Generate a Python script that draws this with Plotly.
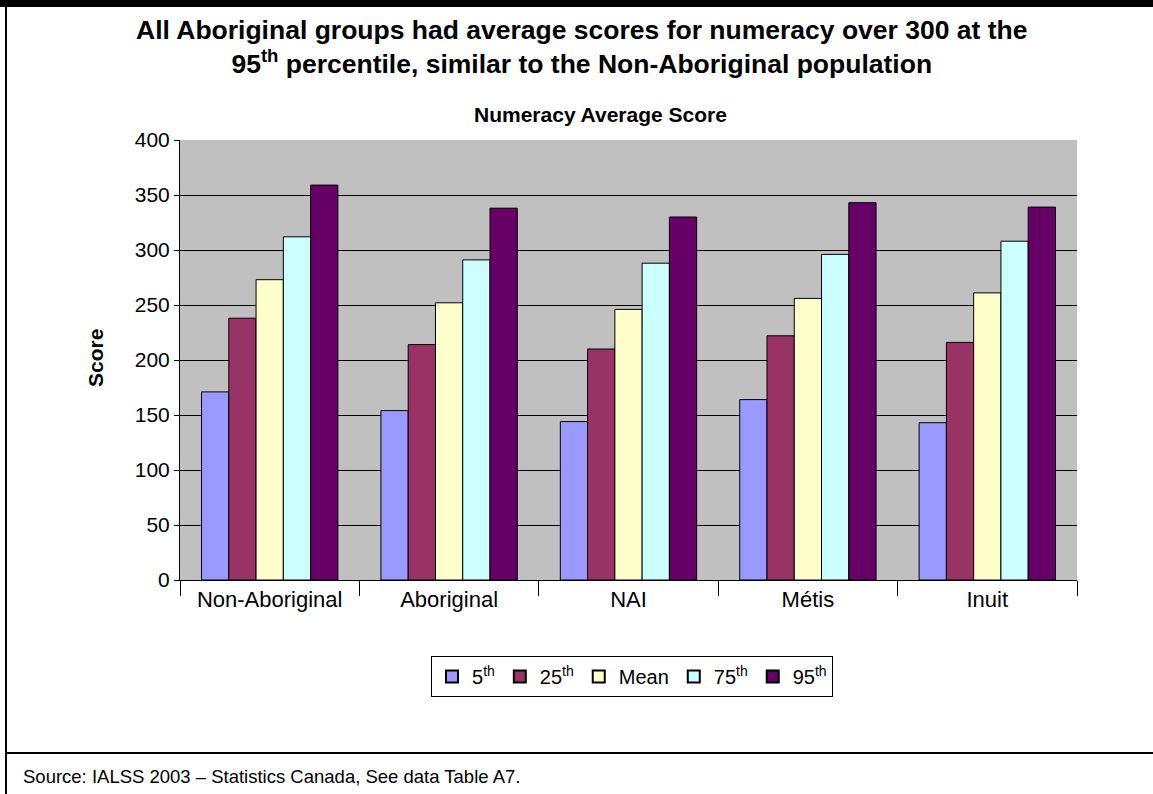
import plotly.graph_objects as go

categories = ["Non-Aboriginal", "Aboriginal", "NAI", "Métis", "Inuit"]
series_names = ["5<sup>th</sup>", "25<sup>th</sup>", "Mean", "75<sup>th</sup>", "95<sup>th</sup>"]
p5 = [171, 154, 144, 164, 143]
p25 = [238, 214, 210, 222, 216]
mean = [273, 252, 246, 256, 261]
p75 = [312, 291, 288, 296, 308]
p95 = [359, 338, 330, 343, 339]
colors = ["#9999FF", "#993366", "#FFFFCC", "#CCFFFF", "#660066"]
y_ticks = [0, 50, 100, 150, 200, 250, 300, 350, 400]

FONT = "Liberation Sans, Arial, sans-serif"

W, H = 1153, 794
L, R, T, B = 180, 76, 140, 214
PW, PH = W - L - R, H - T - B


def px_x(p):
    return (p - L) / PW


def px_y(p):
    return (H - B - p) / PH


fig = go.Figure()
for name, vals, col in zip(series_names, [p5, p25, mean, p75, p95], colors):
    fig.add_trace(go.Bar(
        x=categories, y=vals, name=name,
        marker=dict(color=col, line=dict(color="black", width=1)),
    ))

fig.update_layout(
    width=W, height=H,
    margin=dict(l=L, r=R, t=T, b=B, autoexpand=False),
    paper_bgcolor="white",
    plot_bgcolor="#C0C0C0",
    barmode="group",
    bargap=0.24,
    bargroupgap=0,
    font=dict(family=FONT, color="black", size=18),
    showlegend=True,
    legend=dict(
        orientation="h",
        x=px_x(632), xanchor="center",
        y=px_y(656), yanchor="top",
        bgcolor="white", bordercolor="black", borderwidth=1,
        font=dict(size=20, family=FONT),
        itemsizing="constant",
        itemwidth=30,
    ),
)

fig.update_xaxes(
    showline=True, linecolor="black", linewidth=1,
    ticks="outside", tickson="boundaries", ticklen=15, tickcolor="black",
    tickfont=dict(size=22, family=FONT),
    showgrid=False,
)
fig.update_yaxes(
    range=[0, 400], tickvals=y_ticks,
    showline=True, linecolor="black", linewidth=1,
    ticks="outside", ticklen=5, tickcolor="black",
    tickfont=dict(size=21, family=FONT),
    showgrid=True, gridcolor="black", gridwidth=1,
    zeroline=False,
)

# Titles
fig.add_annotation(
    xref="paper", yref="paper", x=px_x(581), y=px_y(47),
    xanchor="center", yanchor="middle", showarrow=False,
    text="<b>All Aboriginal groups had average scores for numeracy over 300 at the<br>"
         "95<sup>th</sup> percentile, similar to the Non-Aboriginal population</b>",
    font=dict(size=26.5, family=FONT), align="center",
)
fig.add_annotation(
    xref="paper", yref="paper", x=px_x(600), y=px_y(115),
    xanchor="center", yanchor="middle", showarrow=False,
    text="<b>Numeracy Average Score</b>",
    font=dict(size=21, family=FONT),
)
fig.add_annotation(
    xref="paper", yref="paper", x=px_x(95), y=px_y(358),
    xanchor="center", yanchor="middle", showarrow=False, textangle=-90,
    text="<b>Score</b>", font=dict(size=21, family=FONT),
)
fig.add_annotation(
    xref="paper", yref="paper", x=px_x(21), y=px_y(776),
    xanchor="left", yanchor="middle", showarrow=False,
    text="Source: IALSS 2003 – Statistics Canada, See data Table A7.",
    font=dict(size=18.5, family=FONT),
)

# Frame
fig.add_shape(type="rect", xref="paper", yref="paper",
              x0=px_x(0), x1=px_x(W), y0=px_y(7), y1=px_y(0),
              fillcolor="black", line=dict(width=0), layer="above")
fig.add_shape(type="line", xref="paper", yref="paper",
              x0=px_x(6), x1=px_x(6), y0=px_y(0), y1=px_y(H),
              line=dict(color="black", width=2), layer="above")
fig.add_shape(type="line", xref="paper", yref="paper",
              x0=px_x(6), x1=px_x(W), y0=px_y(753), y1=px_y(753),
              line=dict(color="black", width=2), layer="above")

fig.write_html("out.html", config={"displayModeBar": False},
               post_script="document.body.style.margin='0';")
